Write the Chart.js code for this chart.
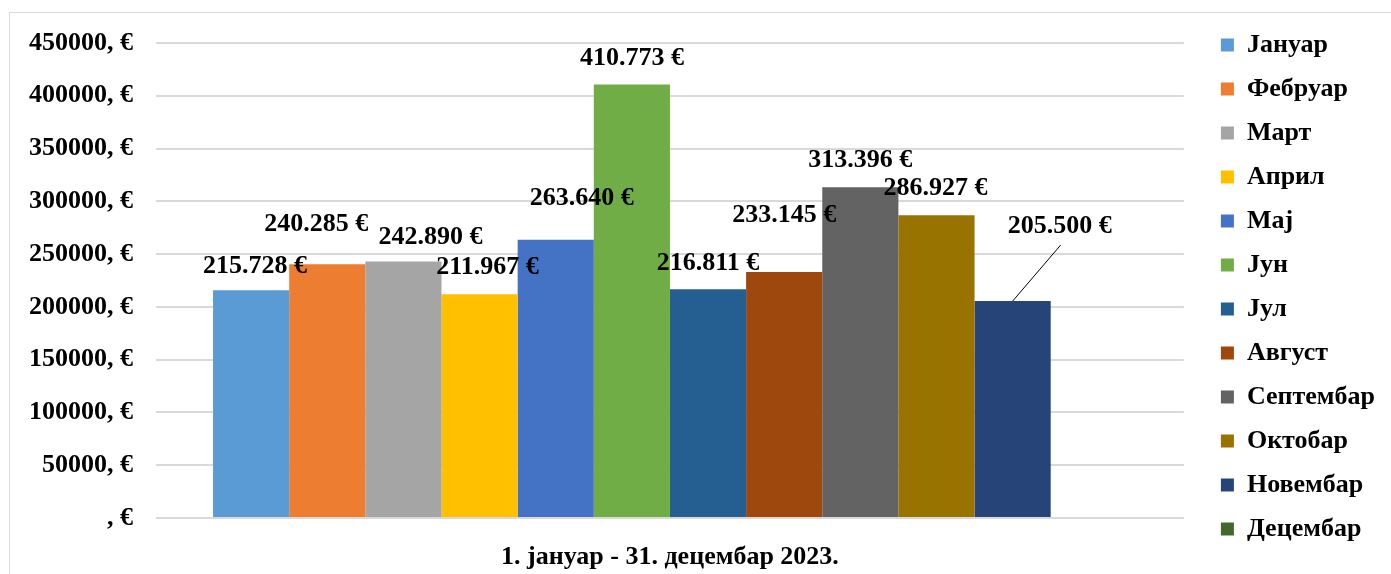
<!DOCTYPE html>
<html>
<head>
<meta charset="utf-8">
<script src="https://cdn.jsdelivr.net/npm/chart.js@4/dist/chart.umd.min.js"></script>
<style>
  html, body { margin: 0; padding: 0; background: #fff; overflow: hidden; width: 1391px; height: 574px; }
  #frame { position: absolute; left: 9px; top: 12px; width: 1400px; height: 600px; border: 1px solid #d9d9d9; box-sizing: border-box; }
  #c { position: absolute; left: 0; top: 0; }
</style>
</head>
<body>
<div id="frame"></div>
<canvas id="c" width="1391" height="574"></canvas>
<script>
// ---- data ----
const categories = ['1. јануар - 31. децембар 2023.'];
const months = ['Јануар', 'Фебруар', 'Март', 'Април', 'Мај', 'Јун', 'Јул', 'Август', 'Септембар', 'Октобар', 'Новембар', 'Децембар'];
const amounts = [215728, 240285, 242890, 211967, 263640, 410773, 216811, 233145, 313396, 286927, 205500, null];
const yTickLabels = [', €', '50000, €', '100000, €', '150000, €', '200000, €', '250000, €', '300000, €', '350000, €', '400000, €', '450000, €'];

// ---- styles ----
const colors = ['#5B9BD5', '#ED7D31', '#A5A5A5', '#FFC000', '#4472C4', '#70AD47', '#255E91', '#9E480E', '#636363', '#997300', '#264478', '#43682B'];
// label placement (pixel offsets from bar top-centre) as laid out in the original
const labelOffsets = [[4, -24], [-11, -40], [27, -24], [8, -27], [26, -41], [0, -26], [0, -26], [0, -57], [0, -27], [-1, -27], [47, -75], [0, 0]];
const labelLeaders = [false, false, false, false, false, false, false, false, false, false, true, false];
const FONT = "'Liberation Serif', 'Times New Roman', serif";

function fmt(v) {
  return String(v).replace(/\B(?=(\d{3})+(?!\d))/g, '.') + ' €';
}

const labelPlugin = {
  id: 'valueLabels',
  afterDatasetsDraw(chart) {
    const ctx = chart.ctx;
    ctx.save();
    ctx.font = 'bold 26px ' + FONT;
    ctx.fillStyle = '#000';
    ctx.textAlign = 'center';
    ctx.textBaseline = 'middle';
    chart.data.datasets.forEach((ds, i) => {
      const v = ds.data[0];
      if (v === null || v === undefined) return;
      const el = chart.getDatasetMeta(i).data[0];
      const [dx, dy] = labelOffsets[i];
      const lx = el.x + dx, ly = el.y + dy;
      if (labelLeaders[i]) {
        ctx.beginPath();
        ctx.strokeStyle = '#000';
        ctx.lineWidth = 1;
        ctx.moveTo(lx + 1, ly + 19);
        ctx.lineTo(el.x, el.y);
        ctx.stroke();
      }
      ctx.fillText(fmt(v), lx, ly);
    });
    ctx.restore();
  }
};

const datasets = months.map((m, i) => ({
  label: m,
  data: [amounts[i]],
  backgroundColor: colors[i],
  borderWidth: 0,
  barPercentage: 1,
  categoryPercentage: 0.889
}));

new Chart(document.getElementById('c'), {
  type: 'bar',
  data: { labels: categories, datasets },
  options: {
    responsive: false,
    animation: false,
    devicePixelRatio: 1,
    layout: { padding: { left: 0, top: 0, right: 6, bottom: 0 } },
    plugins: {
      legend: {
        position: 'right',
        labels: {
          boxWidth: 13,
          boxHeight: 13,
          padding: 18,
          color: '#000',
          font: { family: FONT, size: 26, weight: 'bold' }
        }
      },
      tooltip: { enabled: false }
    },
    scales: {
      x: {
        afterFit(s) { s.height = 56; },
        grid: { display: false },
        border: { display: false },
        ticks: { color: '#000', padding: 16, font: { family: FONT, size: 26, weight: 'bold' } }
      },
      y: {
        min: 0,
        max: 450000,
        afterFit(s) { s.width = 156; },
        grid: { color: '#d9d9d9', lineWidth: 2, drawTicks: false },
        border: { display: false },
        ticks: {
          stepSize: 50000,
          padding: 23,
          color: '#000',
          font: { family: FONT, size: 26, weight: 'bold' },
          callback: (v, idx) => yTickLabels[idx]
        }
      },
      gapRight: {
        type: 'linear',
        position: 'right',
        display: true,
        afterFit(s) { s.width = 19; },
        grid: { display: false },
        border: { display: false },
        ticks: { display: false }
      },
      gapTop: {
        type: 'category',
        position: 'top',
        display: true,
        afterFit(s) { s.height = 43; },
        grid: { display: false },
        border: { display: false },
        ticks: { display: false }
      }
    }
  },
  plugins: [labelPlugin]
});
</script>
</body>
</html>
